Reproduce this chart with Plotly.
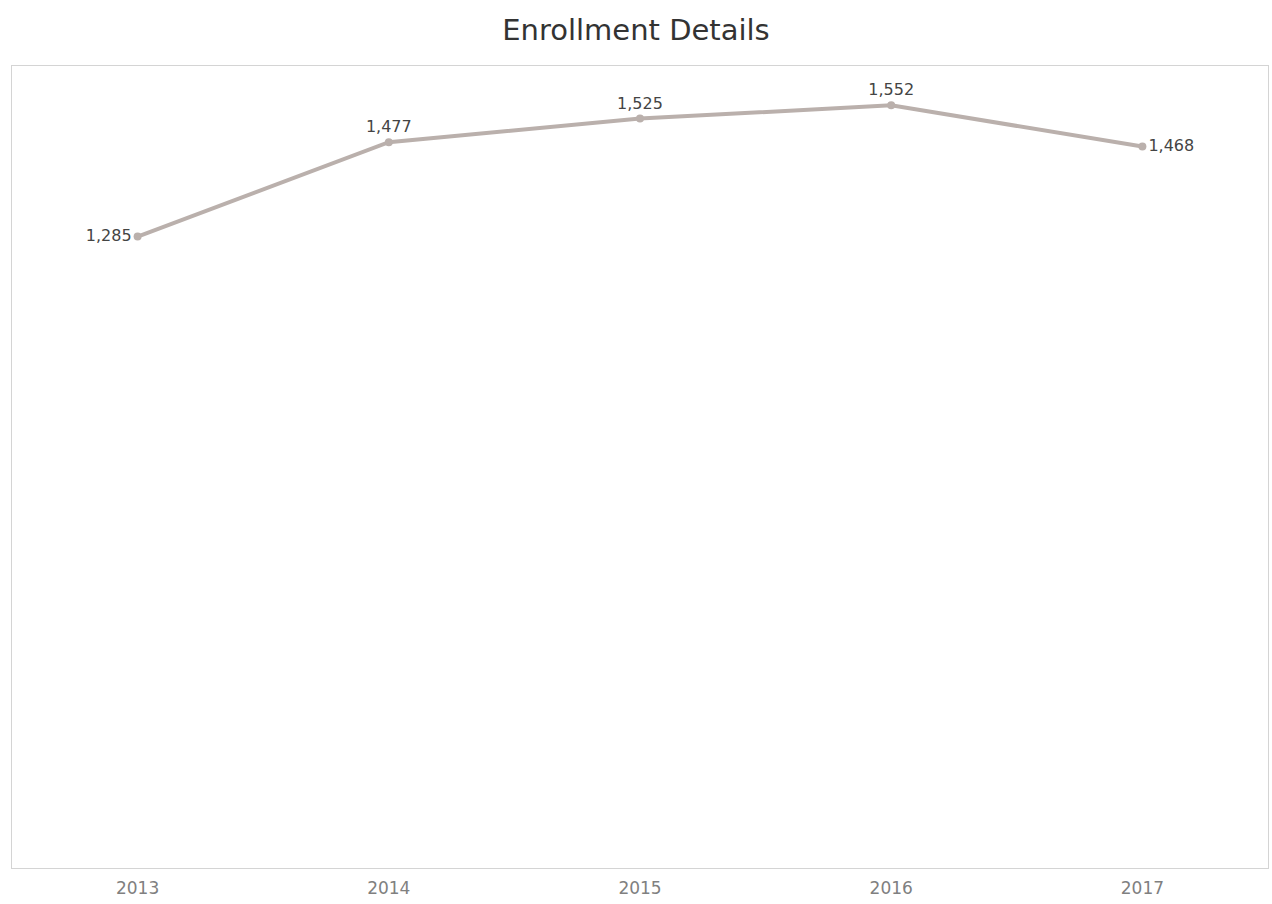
import plotly.graph_objects as go

years = ["2013", "2014", "2015", "2016", "2017"]
enrollment = [1285, 1477, 1525, 1552, 1468]
label_positions = ["middle left", "top center", "top center", "top center", "middle right"]

FONT = "DejaVu Sans, Verdana, sans-serif"

fig = go.Figure()
fig.add_trace(go.Scatter(
    x=years, y=enrollment,
    mode="lines+markers+text",
    line=dict(color="#bab0ac", width=4),
    marker=dict(color="#bab0ac", size=8),
    text=[f"{v:,}" for v in enrollment],
    textposition=label_positions,
    textfont=dict(family=FONT, size=16, color="#444444"),
    cliponaxis=False,
    hoverinfo="x+y",
))

fig.update_layout(
    width=1272, height=904,
    margin=dict(l=12, r=4, t=66, b=36),
    paper_bgcolor="white", plot_bgcolor="white",
    title=dict(text="Enrollment Details", x=0.5, xanchor="center", y=0.967, yanchor="middle",
               font=dict(family=FONT, size=29, color="#333333")),
    showlegend=False,
    xaxis=dict(type="category", range=[-0.5, 4.5], showgrid=False, zeroline=False,
               showline=True, linecolor="#d4d4d4", linewidth=1, mirror=True,
               ticks="", ticklabelstandoff=5,
               tickfont=dict(family=FONT, size=17, color="#808080")),
    yaxis=dict(range=[0, 1632], showgrid=False, zeroline=False, showticklabels=False,
               showline=True, linecolor="#d4d4d4", linewidth=1, mirror=True, ticks=""),
)

fig.write_html("out.html", config={"displayModeBar": False},
               post_script="document.body.style.margin='0';document.body.style.overflow='hidden';")
